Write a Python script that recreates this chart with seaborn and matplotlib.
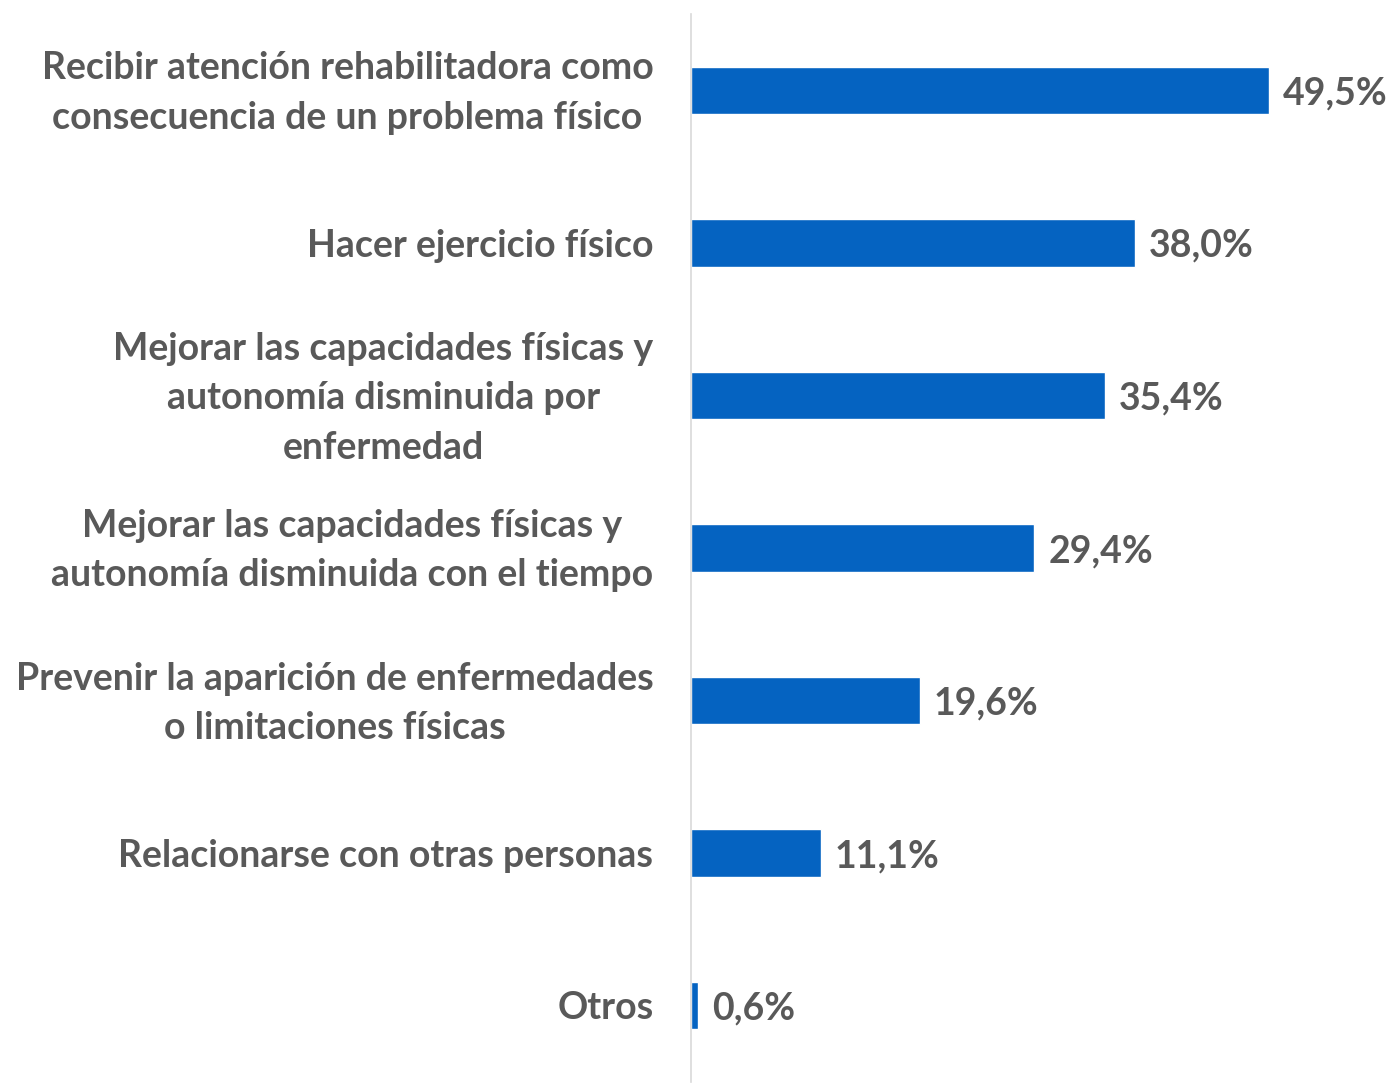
import pandas as pd
import numpy as np
import matplotlib
matplotlib.use('Agg')
import matplotlib.pyplot as plt
import seaborn as sns

categories = [
    'Recibir atención rehabilitadora como\nconsecuencia de un problema físico',
    'Hacer ejercicio físico',
    'Mejorar las capacidades físicas y\nautonomía disminuida por\nenfermedad',
    'Mejorar las capacidades físicas y\nautonomía disminuida con el tiempo',
    'Prevenir la aparición de enfermedades\no limitaciones físicas',
    'Relacionarse con otras personas',
    'Otros',
]
values = [49.5, 38.0, 35.4, 29.4, 19.6, 11.1, 0.6]
value_labels = ['49,5%', '38,0%', '35,4%', '29,4%', '19,6%', '11,1%', '0,6%']

df = pd.DataFrame({'motivo': categories, 'pct': values})

sns.set_style('white')
plt.rcParams['font.family'] = ['Lato', 'DejaVu Sans']
plt.rcParams['font.weight'] = 'bold'

textColor = '#595959'
barColor = '#0563C1'
fs = 27

fig = plt.figure(figsize=(13.92, 10.86), dpi=100)
ax = fig.add_axes([691 / 1392, 4 / 1086, 1 - 691 / 1392, 1068 / 1086])

sns.barplot(data=df, x='pct', y='motivo', orient='h', color=barColor,
            width=0.31, saturation=1, ax=ax)

ax.set_xlim(0, 60)
ax.set_ylim(len(categories) - 0.5, -0.5)
ax.set_xlabel('')
ax.set_ylabel('')
ax.set_xticks([])

for side in ['top', 'right', 'bottom']:
    ax.spines[side].set_visible(False)
ax.spines['left'].set_color('#D9D9D9')
ax.spines['left'].set_linewidth(1.2)

# category labels drawn by hand so multi-line ones sit centred on the bar
ax.tick_params(axis='y', length=0, labelleft=False)
for i, lab in enumerate(categories):
    ax.annotate(lab, xy=(0, i), xycoords=('axes fraction', 'data'),
                xytext=(-27, -2), textcoords='offset points',
                ha='right', va='center', multialignment='center',
                linespacing=1.55, fontsize=fs, color=textColor,
                fontweight='bold', annotation_clip=False)

texts = ax.bar_label(ax.containers[0], labels=value_labels, padding=10,
                     fontsize=fs, color=textColor, fontweight='bold')
for t in texts:
    t.set_verticalalignment('center_baseline')

fig.savefig('out.png', dpi=100)
